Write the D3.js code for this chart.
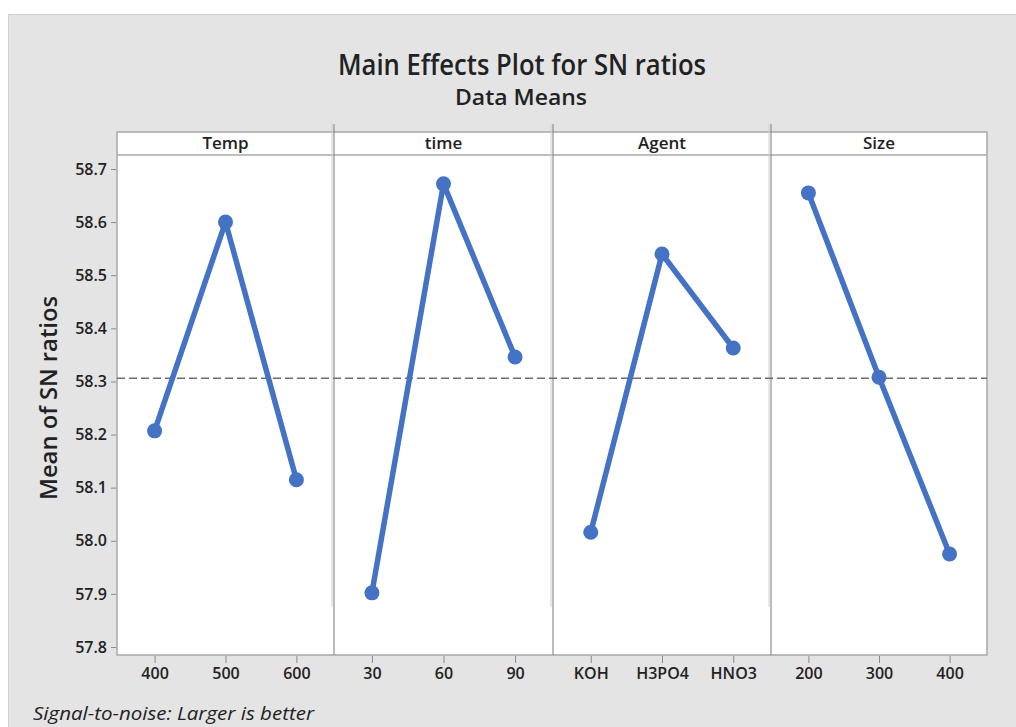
<!DOCTYPE html>
<html>
<head>
<meta charset="utf-8">
<script src="https://cdn.jsdelivr.net/npm/d3@7"></script>
<style>
  body { margin: 0; background: #fff; }
  text { font-family: "Open Sans", sans-serif; fill: #222; }
</style>
</head>
<body>
<div class="diagram-canvas"></div>
<script>
// values
const factors = ["Temp", "time", "Agent", "Size"];
const tempLevels = ["400", "500", "600"];
const tempMeans = [58.207, 58.6, 58.115];
const timeLevels = ["30", "60", "90"];
const timeMeans = [57.902, 58.672, 58.346];
const agentLevels = ["KOH", "H3PO4", "HNO3"];
const agentMeans = [58.016, 58.54, 58.363];
const sizeLevels = ["200", "300", "400"];
const sizeMeans = [58.655, 58.308, 57.975];
const overallMean = 58.306;
const yTicks = [57.8, 57.9, 58.0, 58.1, 58.2, 58.3, 58.4, 58.5, 58.6, 58.7];

function mainEffects() {
  let width = 1016,
    height = 727,
    left = 117,
    right = 987,
    headTop = 132,
    headBottom = 155,
    bottom = 655;

  let blue = "#4472c4";

  let panels = [
    { name: factors[0], levels: tempLevels, means: tempMeans },
    { name: factors[1], levels: timeLevels, means: timeMeans },
    { name: factors[2], levels: agentLevels, means: agentMeans },
    { name: factors[3], levels: sizeLevels, means: sizeMeans },
  ];
  let edges = [left, 334, 553, 771, right];

  let yScale = d3
    .scaleLinear()
    .domain([57.8, 58.7])
    .range([647, 169]);

  let svg = d3
    .select(".diagram-canvas")
    .append("svg")
    .attr("width", width)
    .attr("height", height)
    .style("display", "block");

  // grey frame
  svg
    .append("rect")
    .attr("x", 8.5)
    .attr("y", 14.5)
    .attr("width", width)
    .attr("height", height)
    .attr("fill", "#e4e4e4")
    .attr("stroke", "#d2d2d2");

  svg
    .append("text")
    .attr("x", 522)
    .attr("y", 75)
    .attr("text-anchor", "middle")
    .attr("textLength", 368)
    .attr("lengthAdjust", "spacingAndGlyphs")
    .style("font-size", "28px")
    .style("font-weight", 600)
    .text("Main Effects Plot for SN ratios");

  svg
    .append("text")
    .attr("x", 521)
    .attr("y", 105)
    .attr("text-anchor", "middle")
    .attr("textLength", 132)
    .attr("lengthAdjust", "spacingAndGlyphs")
    .style("font-size", "22px")
    .style("font-weight", 600)
    .text("Data Means");

  // plot area + header strip
  svg
    .append("rect")
    .attr("x", left)
    .attr("y", headTop)
    .attr("width", right - left)
    .attr("height", bottom - headTop)
    .attr("fill", "#fff")
    .attr("stroke", "#a8a8a8")
    .attr("stroke-width", 1.5);

  svg
    .append("line")
    .attr("x1", left)
    .attr("x2", right)
    .attr("y1", headBottom)
    .attr("y2", headBottom)
    .attr("stroke", "#a8a8a8")
    .attr("stroke-width", 1.5);

  // panel dividers (with the faint doubled line of the original)
  svg
    .selectAll(".ghost")
    .data(edges.slice(1, 4))
    .enter()
    .append("line")
    .attr("class", "ghost")
    .attr("x1", (d) => d - 2)
    .attr("x2", (d) => d - 2)
    .attr("y1", 124)
    .attr("y2", 607)
    .attr("stroke", "#cfcfcf")
    .attr("stroke-width", 1);

  svg
    .selectAll(".divider")
    .data(edges.slice(1, 4))
    .enter()
    .append("line")
    .attr("class", "divider")
    .attr("x1", (d) => d)
    .attr("x2", (d) => d)
    .attr("y1", 124)
    .attr("y2", bottom)
    .attr("stroke", "#8f8f8f")
    .attr("stroke-width", 1.2);

  // reference line at the overall mean
  svg
    .append("line")
    .attr("x1", left)
    .attr("x2", right)
    .attr("y1", yScale(overallMean))
    .attr("y2", yScale(overallMean))
    .attr("stroke", "#6e6e6e")
    .attr("stroke-width", 1.5)
    .attr("stroke-dasharray", "8,4");

  let yAxis = d3
    .axisLeft(yScale)
    .tickValues(yTicks)
    .tickFormat(d3.format(".1f"))
    .tickSize(5)
    .tickPadding(4);

  let yG = svg
    .append("g")
    .attr("transform", "translate(" + (left - 1) + ",0)")
    .call(yAxis);
  yG.select(".domain").remove();
  yG.selectAll("line").attr("stroke", "#8a8a8a");
  yG.selectAll("text")
    .style("font-family", "Open Sans")
    .style("font-size", "16px")
    .style("font-weight", 600)
    .attr("fill", "#222");

  svg
    .append("text")
    .attr("transform", "translate(57,398) rotate(-90)")
    .attr("text-anchor", "middle")
    .attr("textLength", 204)
    .attr("lengthAdjust", "spacingAndGlyphs")
    .style("font-size", "23px")
    .style("font-weight", 600)
    .text("Mean of SN ratios");

  panels.forEach(function (p, i) {
    let x0 = edges[i],
      x1 = edges[i + 1];

    let xScale = d3
      .scalePoint()
      .domain(p.levels)
      .range([x0, x1])
      .padding(0.53);

    svg
      .append("text")
      .attr("x", (x0 + x1) / 2)
      .attr("y", 149)
      .attr("text-anchor", "middle")
      .style("font-size", "17px")
      .style("font-weight", 600)
      .text(p.name);

    let xAxis = d3.axisBottom(xScale).tickSize(7).tickPadding(5);
    let xG = svg
      .append("g")
      .attr("transform", "translate(0," + (bottom + 1) + ")")
      .call(xAxis);
    xG.select(".domain").remove();
    xG.selectAll("line").attr("stroke", "#8a8a8a");
    xG.selectAll("text")
      .style("font-family", "Open Sans")
      .style("font-size", "16px")
      .style("font-weight", 600)
      .attr("fill", "#222");

    let line = d3
      .line()
      .x((d, j) => xScale(p.levels[j]))
      .y((d) => yScale(d));

    svg
      .append("path")
      .datum(p.means)
      .attr("d", line)
      .attr("fill", "none")
      .attr("stroke", blue)
      .attr("stroke-width", 5.5)
      .attr("stroke-linejoin", "round");

    svg
      .selectAll(".dot" + i)
      .data(p.means)
      .enter()
      .append("circle")
      .attr("class", "dot" + i)
      .attr("cx", (d, j) => xScale(p.levels[j]))
      .attr("cy", (d) => yScale(d))
      .attr("r", 7.5)
      .attr("fill", blue);
  });

  svg
    .append("text")
    .attr("x", 33)
    .attr("y", 720)
    .attr("textLength", 281)
    .attr("lengthAdjust", "spacingAndGlyphs")
    .style("font-size", "18px")
    .style("font-style", "italic")
    .text("Signal-to-noise: Larger is better");
}

mainEffects();
</script>
</body>
</html>
